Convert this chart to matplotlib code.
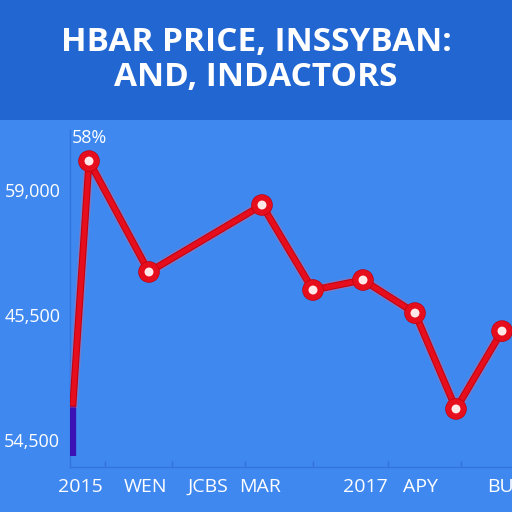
import matplotlib.pyplot as plt
import matplotlib.patches as mpatches
import matplotlib.patheffects as pe

# --- data (x in months from start, y in price units) ---
x_vals = [0.3, 1.9, 7.9, 19.2, 24.3, 29.3, 34.5, 38.6, 43.2]
y_vals = [47070, 60620, 54410, 58160, 53400, 53960, 52110, 46740, 51100]
base_x = [0.3, 0.3]
base_y = [44100, 47070]

x_tick_pos = [1.0, 7.5, 13.8, 19.0, 29.5, 35.0, 43.0]
x_tick_labels = ["2015", "WEN", "JCBS", "MAR", "2017", "APY", "BU"]
x_minor_pos = [3.5, 10.2, 17.5, 24.3, 31.8, 39.1]
y_tick_pos = [45000, 52000, 59000]
y_tick_labels = ["54,500", "45,500", "59,000"]
peak_label = "58%"

title = "HBAR PRICE, INSSYBAN:\nAND, INDACTORS"

# --- colours ---
bg = "#3f88ef"
band = "#2166d1"
red = "#e60d1c"
purple = "#3b10b4"

plt.rcParams['font.family'] = ['Open Sans', 'DejaVu Sans']

fig = plt.figure(figsize=(5.12, 5.12), dpi=100, facecolor=bg)
fig.patches.append(mpatches.Rectangle((0, 1 - 120 / 512), 1, 120 / 512,
                                      transform=fig.transFigure,
                                      facecolor=band, zorder=0))
fig.text(0.5, 1 - 60 / 512, title, ha="center", va="center", color="white",
         fontsize=24, fontweight="bold", linespacing=1.05)

ax = fig.add_axes([70 / 512, 1 - 467 / 512, 442 / 512, 337 / 512])
ax.set_facecolor(bg)
ax.set_xlim(0, 44.2)
ax.set_ylim(43490, 62360)

# base segment
ax.plot(base_x, base_y, color=purple, lw=4.5, solid_capstyle="butt", zorder=3)

# glow under the line
ax.plot(x_vals, y_vals, color="#ff6070", lw=7, alpha=0.3, zorder=3,
        solid_joinstyle="round")
ax.plot(x_vals, y_vals, color=red, lw=3.6, zorder=4, solid_joinstyle="round",
        marker="o", markersize=10.5, markerfacecolor="#ffe8e8",
        markeredgecolor=red, markeredgewidth=4, markevery=list(range(1, len(x_vals))),
        path_effects=[pe.Stroke(linewidth=5, foreground="#c0000e"), pe.Normal()])

ax.annotate(peak_label, (x_vals[1], y_vals[1]), xytext=(0, 10),
            textcoords="offset points", ha="center", va="bottom",
            color="white", fontsize=13)

ax.set_xticks(x_tick_pos)
ax.set_xticklabels(x_tick_labels)
ax.set_xticks(x_minor_pos, minor=True)
ax.set_yticks(y_tick_pos)
ax.set_yticklabels(y_tick_labels)
ax.tick_params(axis="x", which="major", length=0, colors="white",
               labelsize=14, pad=8)
ax.tick_params(axis="y", which="major", length=0, colors="white",
               labelsize=13, pad=7)
ax.tick_params(axis="x", which="minor", length=4, direction="in",
               color="#3170d8", width=1)

for side in ["top", "right"]:
    ax.spines[side].set_visible(False)
ax.spines["left"].set_color("#3274dc")
ax.spines["bottom"].set_color("#3274dc")
ax.spines["left"].set_linewidth(1)
ax.spines["bottom"].set_linewidth(1)

fig.savefig("out.png", dpi=100, facecolor=bg)
